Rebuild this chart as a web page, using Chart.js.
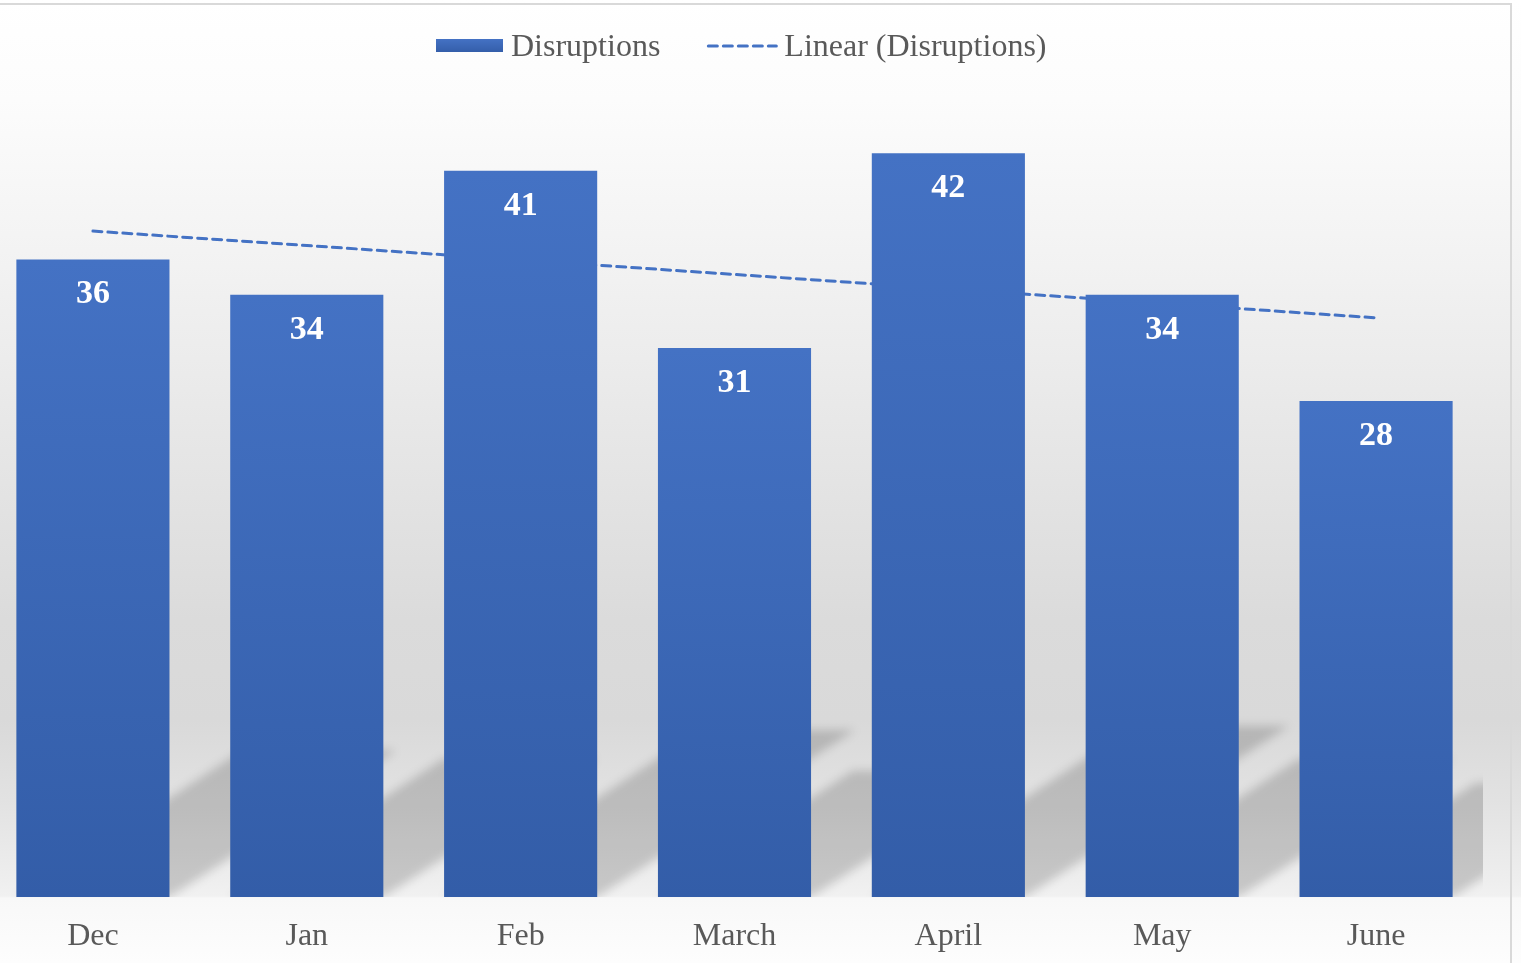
<!DOCTYPE html>
<html><head><meta charset="utf-8">
<script src="https://cdn.jsdelivr.net/npm/chart.js@4.4.1/dist/chart.umd.min.js"></script>
<style>
html,body{margin:0;padding:0;width:1521px;height:963px;overflow:hidden;background:#fff;}
#wrap{position:absolute;left:-14px;top:0;width:1535px;height:963px;}
canvas{display:block;}
</style></head><body>
<div id="wrap"><canvas id="c" width="1535" height="963"></canvas></div>
<script>
// ---- data ----
const categories = ['Dec', 'Jan', 'Feb', 'March', 'April', 'May', 'June'];
const disruptions = [36, 34, 41, 31, 42, 34, 28];
// trendline end points (Excel linear trendline)
const trendEnds = [37.6, null, null, null, null, null, 32.7];
const seriesNames = ['Disruptions', 'Linear (Disruptions)'];
const yMin = 0;
const yMax = 45;

// ---- styles ----
const BLUE_TOP = '#4472C4';
const BLUE_BOT = '#335DA8';
const SERIF = '"Liberation Serif", "Times New Roman", serif';
const TEXT_GREY = '#595959';

function barGradient(ctx) {
  const chart = ctx.chart;
  const ys = chart.scales && chart.scales.y;
  if (!ys || !chart.chartArea || ctx.raw == null) return BLUE_TOP;
  const top = ys.getPixelForValue(ctx.raw);
  const base = ys.getPixelForValue(0);
  if (!isFinite(top) || !isFinite(base)) return BLUE_TOP;
  const g = chart.ctx.createLinearGradient(0, top, 0, base);
  g.addColorStop(0, BLUE_TOP);
  g.addColorStop(1, BLUE_BOT);
  return g;
}

const backgroundPlugin = {
  id: 'bg',
  beforeDraw(chart) {
    const c = chart.ctx, H = chart.height, W = chart.width;
    c.save();
    const g = c.createLinearGradient(0, 0, 0, H);
    const s = (y, col) => g.addColorStop(Math.min(1, y / H), col);
    s(0, '#ffffff'); s(100, '#fcfcfc'); s(250, '#f3f3f3'); s(420, '#e8e8e8');
    s(620, '#dbdbdb'); s(720, '#d9d9d9'); s(800, '#e2e2e2'); s(880, '#eeeeee');
    s(896, '#f1f1f1'); s(898, '#f8f8f8'); s(963, '#fdfdfd');
    c.fillStyle = g;
    c.fillRect(0, 0, W, H);
    c.restore();
  },
  afterDraw(chart) {
    const c = chart.ctx;
    c.save();
    c.strokeStyle = '#d9d9d9';
    c.lineWidth = 2;
    c.beginPath();
    c.moveTo(0, 4); c.lineTo(1525, 4); c.lineTo(1525, chart.height);
    c.stroke();
    c.restore();
  }
};

const shadowPlugin = {
  id: 'barShadows',
  beforeDatasetsDraw(chart) {
    const meta = chart.getDatasetMeta(0);
    const a = chart.chartArea;
    const c = chart.ctx;
    c.save();
    c.beginPath();
    c.rect(a.left, a.top - 50, a.right - a.left, a.bottom - a.top + 50);
    c.clip();
    c.filter = 'blur(5px)';
    c.fillStyle = 'rgba(0,0,0,0.17)';
    meta.data.forEach(el => {
      const x0 = el.x - el.width / 2, x1 = el.x + el.width / 2;
      const B = el.base, H = el.base - el.y;
      const dx = 0.355 * H, dy = 0.23 * H;
      c.beginPath();
      c.moveTo(x0, B);
      c.lineTo(x1, B);
      c.lineTo(x1 + dx, B - dy);
      c.lineTo(x0 + dx, B - dy);
      c.closePath();
      c.fill();
    });
    c.restore();
  }
};

const labelPlugin = {
  id: 'barLabels',
  afterDatasetsDraw(chart) {
    const meta = chart.getDatasetMeta(0);
    const c = chart.ctx;
    c.save();
    c.fillStyle = '#ffffff';
    c.font = 'bold 34px ' + SERIF;
    c.textAlign = 'center';
    c.textBaseline = 'middle';
    meta.data.forEach((el, i) => {
      c.fillText(String(disruptions[i]), el.x, el.y + 35);
    });
    c.restore();
  }
};

const legendPlugin = {
  id: 'customLegend',
  afterDraw(chart) {
    const c = chart.ctx;
    c.save();
    c.font = '32px ' + SERIF;
    c.fillStyle = TEXT_GREY;
    c.textBaseline = 'middle';
    c.textAlign = 'left';
    const cy = 46;
    let x = 450;
    const g = c.createLinearGradient(0, cy - 7, 0, cy + 7);
    g.addColorStop(0, BLUE_TOP); g.addColorStop(1, BLUE_BOT);
    c.fillStyle = g;
    c.fillRect(x, cy - 7, 67, 13);
    x += 67 + 8;
    c.fillStyle = TEXT_GREY;
    c.fillText(seriesNames[0], x, cy + 2);
    x += c.measureText(seriesNames[0]).width + 47;
    c.strokeStyle = BLUE_TOP;
    c.lineWidth = 3;
    c.lineCap = 'round';
    c.setLineDash([9, 6]);
    c.beginPath();
    c.moveTo(x + 1, cy); c.lineTo(x + 69, cy);
    c.stroke();
    c.setLineDash([]);
    x += 69 + 8;
    c.fillText(seriesNames[1], x, cy + 2);
    c.restore();
  }
};

new Chart(document.getElementById('c'), {
  data: {
    labels: categories,
    datasets: [
      {
        type: 'bar',
        label: seriesNames[0],
        data: disruptions,
        backgroundColor: barGradient,
        borderWidth: 0,
        categoryPercentage: 0.716,
        barPercentage: 1,
        order: 0
      },
      {
        type: 'line',
        label: seriesNames[1],
        data: trendEnds,
        spanGaps: true,
        borderColor: BLUE_TOP,
        borderWidth: 3,
        borderDash: [9, 6],
        borderCapStyle: 'round',
        pointRadius: 0,
        fill: false,
        order: 1
      }
    ]
  },
  options: {
    responsive: false,
    animation: false,
    devicePixelRatio: 1,
    layout: { padding: { top: 100, right: 38, left: 0, bottom: 0 } },
    plugins: { legend: { display: false }, tooltip: { enabled: false } },
    scales: {
      x: {
        grid: { display: false, drawTicks: false },
        border: { display: false },
        ticks: { font: { family: SERIF, size: 32 }, color: TEXT_GREY, padding: 20, maxRotation: 0, autoSkip: false },
        afterFit(scale) { scale.height = 66; }
      },
      y: { display: false, min: yMin, max: yMax }
    }
  },
  plugins: [backgroundPlugin, shadowPlugin, labelPlugin, legendPlugin]
});
</script>
</body></html>
